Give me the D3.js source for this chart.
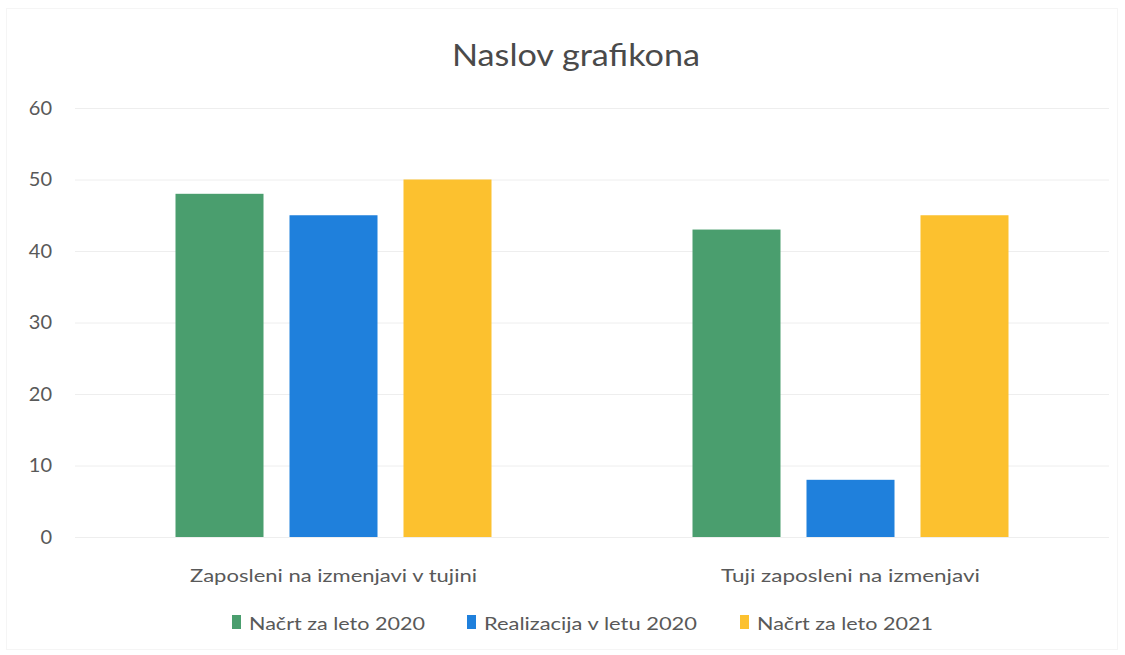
<!DOCTYPE html>
<html>
<head>
<meta charset="utf-8">
<script src="https://cdn.jsdelivr.net/npm/d3@7"></script>
<style>
  html, body { margin: 0; padding: 0; background: #fff; }
  svg { display: block; }
  text { font-family: Lato, "Open Sans", sans-serif; }
</style>
</head>
<body>
<svg id="chart" width="1125" height="655"></svg>
<script>
const title = "Naslov grafikona";
const categories = ["Zaposleni na izmenjavi v tujini", "Tuji zaposleni na izmenjavi"];
const seriesNames = ["Načrt za leto 2020", "Realizacija v letu 2020", "Načrt za leto 2021"];
const seriesColors = ["#4a9e6e", "#1f80dc", "#fcc12f"];
const values2020Plan = [48, 43];
const values2020Real = [45, 8];
const values2021Plan = [50, 45];
const yTicks = [0, 10, 20, 30, 40, 50, 60];

const seriesValues = [values2020Plan, values2020Real, values2021Plan];

const svg = d3.select("#chart");
const W = 1125, H = 655;
const plot = { left: 75, right: 1109, top: 108, bottom: 537 };

// faint chart border
svg.append("rect").attr("x", 6.5).attr("y", 8.5).attr("width", W - 14).attr("height", H - 14)
  .attr("fill", "none").attr("stroke", "#f5f5f5");

const y = d3.scaleLinear().domain([0, 60]).range([plot.bottom, plot.top]);
const x0 = d3.scaleBand().domain(categories).range([plot.left, plot.right]).paddingInner(0).paddingOuter(0);
const groupW = 316;
const x1 = d3.scaleBand().domain(seriesNames)
  .range([(x0.bandwidth() - groupW) / 2, (x0.bandwidth() + groupW) / 2])
  .paddingInner(0.228).paddingOuter(0);

// gridlines
const yAxis = d3.axisLeft(y).tickValues(yTicks).tickSize(-(plot.right - plot.left)).tickPadding(13);
const gy = svg.append("g").attr("transform", `translate(${plot.left},0)`).call(yAxis);
gy.select(".domain").remove();
gy.selectAll(".tick line").attr("stroke", "#eeeeee").attr("stroke-width", 1);
gy.selectAll(".tick text").attr("fill", "#595959").attr("font-size", 20).attr("dx", -10)
  .attr("font-family", "Lato, 'Open Sans', sans-serif");

// bars
const groups = svg.append("g").selectAll("g").data(categories).join("g")
  .attr("transform", d => `translate(${x0(d)},0)`);
groups.selectAll("rect")
  .data((c, ci) => seriesNames.map((s, si) => ({ s, si, v: seriesValues[si][ci] })))
  .join("rect")
  .attr("x", d => x1(d.s))
  .attr("width", x1.bandwidth())
  .attr("y", d => y(d.v))
  .attr("height", d => y(0) - y(d.v))
  .attr("fill", d => seriesColors[d.si]);

// x axis labels
const xAxis = d3.axisBottom(x0).tickSize(0).tickPadding(32);
const gx = svg.append("g").attr("transform", `translate(0,${plot.bottom})`).call(xAxis);
gx.select(".domain").remove();
gx.selectAll(".tick text").attr("fill", "#595959").attr("font-size", 18)
  .attr("font-family", "Lato, 'Open Sans', sans-serif")
  .attr("textLength", (d, i) => [287, 259][i]).attr("lengthAdjust", "spacingAndGlyphs");

// title
svg.append("text").attr("x", 576).attr("y", 66).attr("text-anchor", "middle")
  .attr("fill", "#4a4a4a").attr("font-size", 30).text(title)
  .attr("textLength", 248).attr("lengthAdjust", "spacingAndGlyphs");

// legend
const legendX = [232, 467, 740];
const legendW = [176, 213, 176];
const lg = svg.append("g").selectAll("g").data(seriesNames).join("g")
  .attr("transform", (d, i) => `translate(${legendX[i]},624)`);
lg.append("rect").attr("x", 0).attr("y", -9).attr("width", 9).attr("height", 14)
  .attr("fill", (d, i) => seriesColors[i]);
lg.append("text").attr("x", 17).attr("y", 6).attr("fill", "#595959").attr("font-size", 18)
  .text(d => d).attr("textLength", (d, i) => legendW[i]).attr("lengthAdjust", "spacingAndGlyphs");
</script>
</body>
</html>
